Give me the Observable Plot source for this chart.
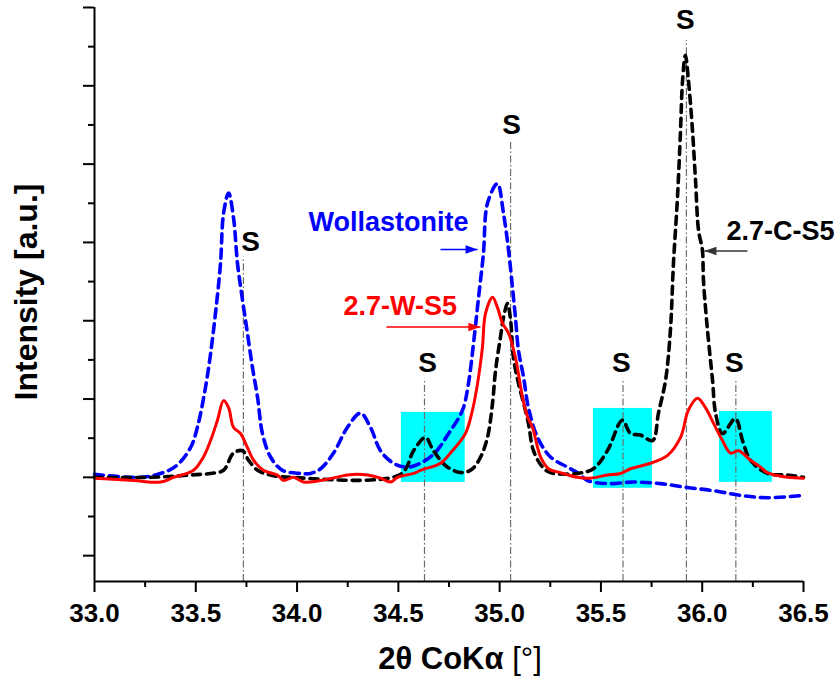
<!DOCTYPE html>
<html>
<head>
<meta charset="utf-8">
<script src="https://cdn.jsdelivr.net/npm/d3@7"></script>
<script src="https://cdn.jsdelivr.net/npm/@observablehq/plot@0.6"></script>
<style>
  html, body { margin: 0; padding: 0; background: #fff; }
  #chart svg { display: block; }
</style>
</head>
<body>
<div id="chart"></div>
<script>
// ---------- Data ----------
// Wollastonite (blue, dashed)
const wollastoniteX = [33.000,33.197,33.301,33.400,33.474,33.508,33.548,33.573,33.597,33.622,33.637,33.662,33.686,33.706,33.731,33.755,33.780,33.805,33.829,33.869,33.928,34.017,34.066,34.116,34.180,34.249,34.313,34.362,34.412,34.476,34.545,34.609,34.683,34.748,34.817,34.846,34.871,34.896,34.920,34.940,34.989,35.019,35.044,35.063,35.078,35.093,35.118,35.142,35.187,35.251,35.335,35.389,35.434,35.532,35.661,35.794,35.927,36.056,36.189,36.322,36.500];
const wollastoniteY = [0.04,0.00,0.03,0.14,0.38,0.64,1.15,1.58,2.09,2.73,3.37,3.63,3.32,2.73,2.26,1.84,1.40,1.02,0.56,0.26,0.09,0.05,0.05,0.11,0.31,0.64,0.82,0.64,0.34,0.18,0.13,0.18,0.32,0.56,0.86,1.20,1.71,2.30,2.86,3.50,3.75,3.37,2.90,2.43,2.04,1.62,1.28,0.89,0.51,0.26,0.13,0.05,-0.04,-0.08,-0.06,-0.08,-0.13,-0.17,-0.23,-0.26,-0.23];

// 2.7-C-S5 (black, dashed)
const c27X = [33.000,33.276,33.474,33.573,33.637,33.686,33.731,33.760,33.805,33.869,33.968,34.511,34.575,34.634,34.673,34.743,34.817,34.866,34.906,34.940,34.965,34.980,35.004,35.019,35.039,35.054,35.068,35.093,35.118,35.142,35.167,35.212,35.251,35.384,35.463,35.532,35.606,35.646,35.695,35.755,35.784,35.819,35.843,35.858,35.878,35.893,35.903,35.917,35.932,35.952,35.967,35.982,36.001,36.006,36.026,36.051,36.066,36.100,36.164,36.199,36.238,36.322,36.421,36.500];
const c27Y = [0.00,0.00,0.03,0.05,0.09,0.31,0.34,0.22,0.09,0.03,0.00,0.04,0.34,0.51,0.34,0.13,0.06,0.11,0.26,0.51,0.95,1.37,1.79,2.04,2.22,2.01,1.53,1.20,0.95,0.69,0.34,0.13,0.06,0.05,0.11,0.34,0.73,0.56,0.54,0.47,0.82,1.24,1.88,2.73,3.58,4.43,5.07,5.39,5.07,4.43,3.79,3.15,2.90,2.52,1.88,1.24,0.82,0.56,0.75,0.47,0.22,0.05,0.03,0.00];

// 2.7-W-S5 (red, solid)
const w27X = [33.005,33.193,33.326,33.390,33.489,33.538,33.573,33.607,33.637,33.662,33.686,33.721,33.755,33.785,33.834,33.903,33.933,33.982,34.032,34.116,34.249,34.298,34.348,34.412,34.461,34.496,34.575,34.609,34.708,34.757,34.831,34.866,34.891,34.915,34.930,34.965,34.989,35.014,35.044,35.078,35.113,35.138,35.162,35.202,35.241,35.300,35.384,35.449,35.532,35.597,35.646,35.745,35.829,35.893,35.932,35.977,36.016,36.056,36.100,36.140,36.179,36.238,36.288,36.322,36.421,36.500];
const w27Y = [-0.01,-0.04,-0.06,0.00,0.09,0.26,0.47,0.73,0.98,0.89,0.64,0.56,0.38,0.22,0.09,0.03,-0.04,0.00,-0.06,-0.04,0.03,0.04,0.03,-0.01,-0.06,0.00,0.05,0.09,0.18,0.31,0.56,0.86,1.20,1.66,2.09,2.30,2.17,1.97,1.84,1.53,1.02,0.77,0.64,0.26,0.11,0.06,0.00,-0.01,0.03,0.05,0.11,0.18,0.28,0.51,0.86,1.01,0.89,0.69,0.47,0.31,0.34,0.22,0.13,0.06,0.00,-0.01];

// "S" reflections: line position, top of the dash-dot line, label position
const sLineX  = [33.735, 34.629, 35.054, 35.609, 35.922, 36.166];
const sLineTop = [2.81, 1.26, 4.28, 1.26, 5.58, 1.26];
const sLabelX = [33.770, 34.644, 35.059, 35.601, 35.917, 36.159];
const sLabelY = [2.89, 1.35, 4.39, 1.35, 5.73, 1.35];

// Highlighted (cyan) regions
const boxX1 = [34.515, 35.463, 36.085];
const boxX2 = [34.830, 35.754, 36.346];
const boxY1 = [-0.064, -0.14, -0.064];
const boxY2 = [0.83, 0.88, 0.84];

// Series labels and their arrows
const labelText  = ["Wollastonite", "2.7-W-S5", "2.7-C-S5"];
const labelColor = ["#0000ff", "#ff0000", "#000000"];
const labelX = [34.056, 34.229, 36.120];
const labelY = [3.15, 2.07, 3.03];
const arrowX1 = [34.708, 34.441, 36.223];
const arrowX2 = [34.891, 34.905, 36.011];
const arrowY  = [2.91, 1.92, 2.89];
const arrowColor = ["#0000ff", "#ff0000", "#333333"];

// Axis ticks
const xMajorTicks = [33.0, 33.5, 34.0, 34.5, 35.0, 35.5, 36.0, 36.5];
const xMinorTicks = [33.25, 33.75, 34.25, 34.75, 35.25, 35.75, 36.25];
const yMajorTicks = [-1, 0, 1, 2, 3, 4, 5, 6];
const yMinorTicks = [-0.5, 0.5, 1.5, 2.5, 3.5, 4.5, 5.5];
const xDomain = [33, 36.5];
const yDomain = [-1.33, 6];

// ---------- Build tables ----------
const toRows = (xs, ys) => xs.map((x, i) => ({x, y: ys[i]}));
const wollastonite = toRows(wollastoniteX, wollastoniteY);
const c27 = toRows(c27X, c27Y);
const w27 = toRows(w27X, w27Y);
const sLines = sLineX.map((x, i) => ({x, top: sLineTop[i], lx: sLabelX[i], ly: sLabelY[i]}));
const boxes = boxX1.map((x1, i) => ({x1, x2: boxX2[i], y1: boxY1[i], y2: boxY2[i]}));
const labels = labelText.map((t, i) => ({t, c: labelColor[i], x: labelX[i], y: labelY[i]}));
const arrows = arrowX1.map((x1, i) => ({x1, x2: arrowX2[i], y: arrowY[i], c: arrowColor[i], dir: x1 < arrowX2[i] ? 1 : -1}));

const headRight = {draw(ctx, size) { const l = 12, w = 4.2; ctx.moveTo(0, 0); ctx.lineTo(-l, -w); ctx.lineTo(-l, w); ctx.closePath(); }};
const headLeft  = {draw(ctx, size) { const l = 12, w = 4.2; ctx.moveTo(0, 0); ctx.lineTo(l, -w); ctx.lineTo(l, w); ctx.closePath(); }};

const FONT = "'Liberation Sans', Arial, Helvetica, sans-serif";

const marks = [
  Plot.rect(boxes, {x1: "x1", x2: "x2", y1: "y1", y2: "y2", fill: "#00ffff"}),
  Plot.ruleX(sLines, {x: "x", y1: yDomain[0], y2: "top", stroke: "#6e6e6e", strokeWidth: 1.2, strokeDasharray: "7,2.5,1.5,2.5"}),
  Plot.line(wollastonite, {x: "x", y: "y", stroke: "#0000ff", strokeWidth: 3.6, strokeDasharray: "9,6", curve: "catmull-rom"}),
  Plot.line(c27, {x: "x", y: "y", stroke: "#000000", strokeWidth: 3.6, strokeDasharray: "8,6", curve: "catmull-rom"}),
  Plot.line(w27, {x: "x", y: "y", stroke: "#ff0000", strokeWidth: 3, curve: "catmull-rom"}),
  Plot.text(sLines, {x: "lx", y: "ly", text: () => "S", fontSize: 28, fontWeight: "bold", fill: "#000", lineAnchor: "bottom"}),
  Plot.text(labels, {x: "x", y: "y", text: "t", fill: "c", fontSize: 27, fontWeight: "bold", textAnchor: "start", lineAnchor: "bottom"}),
  Plot.link(arrows, {x1: "x1", x2: "x2", y1: "y", y2: "y", stroke: "c", strokeWidth: 1.5}),
  Plot.dot(arrows.filter(d => d.dir > 0), {x: "x2", y: "y", symbol: headRight, r: 5, fill: "c", stroke: null}),
  Plot.dot(arrows.filter(d => d.dir < 0), {x: "x2", y: "y", symbol: headLeft, r: 5, fill: "c", stroke: null}),
  Plot.ruleX([xDomain[0]], {stroke: "#000", strokeWidth: 2}),
  Plot.ruleY([yDomain[0]], {stroke: "#000", strokeWidth: 2})
];

if (typeof Plot.axisX === "function") {
  marks.push(
    Plot.axisX(xMajorTicks, {tickSize: 11, tickPadding: 11, tickFormat: d => d.toFixed(1), fontSize: 26, fontWeight: "bold", fill: "#000", stroke: "#000", strokeWidth: 2, label: null}),
    Plot.axisX(xMinorTicks, {tickSize: 6, tickFormat: () => "", stroke: "#000", strokeWidth: 2, label: null}),
    Plot.axisY(yMajorTicks, {tickSize: 11, tickFormat: () => "", stroke: "#000", strokeWidth: 2, label: null}),
    Plot.axisY(yMinorTicks, {tickSize: 6, tickFormat: () => "", stroke: "#000", strokeWidth: 2, label: null})
  );
}

const chart = Plot.plot({
  width: 839,
  height: 678,
  marginLeft: 94,
  marginRight: 36,
  marginTop: 7,
  marginBottom: 97,
  style: {fontFamily: FONT, background: "#fff", color: "#000", overflow: "visible"},
  x: {domain: xDomain, axis: null},
  y: {domain: yDomain, axis: null},
  marks
});

// Axis titles
const svg = d3.select(chart);
const xt = svg.append("text")
  .attr("x", 460).attr("y", 669)
  .attr("text-anchor", "middle")
  .attr("font-family", FONT)
  .attr("font-size", 31)
  .attr("fill", "#000");
xt.append("tspan").attr("font-weight", "bold").text("2θ CoKα");
xt.append("tspan").attr("font-weight", "normal").text(" [°]");

svg.append("text")
  .attr("transform", "translate(37,292) rotate(-90)")
  .attr("text-anchor", "middle")
  .attr("font-family", FONT)
  .attr("font-size", 32)
  .attr("font-weight", "bold")
  .attr("fill", "#000")
  .text("Intensity [a.u.]");

document.getElementById("chart").appendChild(chart);
</script>
</body>
</html>
